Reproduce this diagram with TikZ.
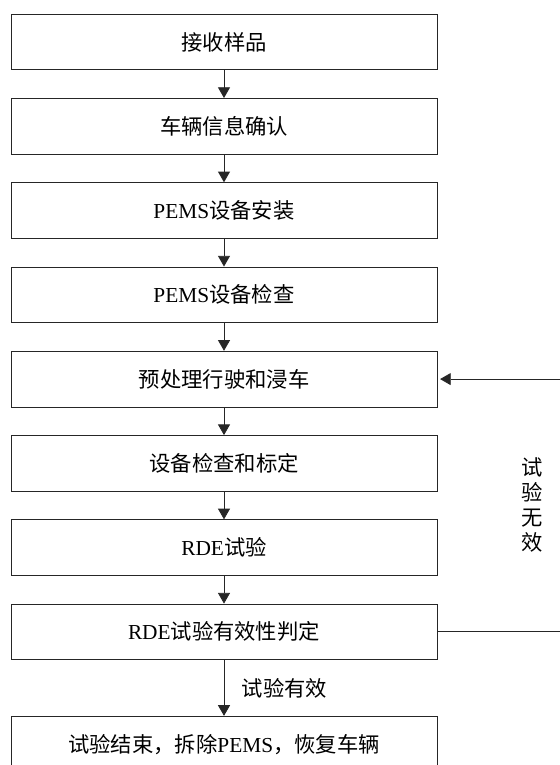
\documentclass[tikz,border=0pt]{standalone}
\usepackage{fontspec}
\setmainfont{Liberation Serif}
\newfontfamily\cjk{Noto Sans CJK SC}
\newcommand\zh[1]{{\cjk #1}}
\usetikzlibrary{positioning,arrows.meta}

\begin{document}
\begin{tikzpicture}[x=0.75pt,y=-0.75pt,node distance=20.8pt,
  stepbox/.style={rectangle,draw=black!85,line width=0.6pt,minimum width=319.5pt,minimum height=41.8pt,inner sep=0pt,font=\fontsize{16}{19}\selectfont},
  link/.style={draw=black!85,line width=0.6pt,-{Triangle[length=8pt,width=9pt]}},
  note/.style={font=\cjk\fontsize{16}{18.75}\selectfont,align=center,inner sep=2pt}]
\useasboundingbox (0,0) rectangle (560,765);
% main steps
\node [stepbox] (recv) at (224,42) {\zh{接收样品}};
\node [stepbox,below=of recv] (info) {\zh{车辆信息确认}};
\node [stepbox,below=of info] (mount) {PEMS\zh{设备安装}};
\node [stepbox,below=of mount] (check) {PEMS\zh{设备检查}};
\node [stepbox,below=of check] (precond) {\zh{预处理行驶和浸车}};
\node [stepbox,below=of precond] (calib) {\zh{设备检查和标定}};
\node [stepbox,below=of calib] (rde) {RDE\zh{试验}};
\node [stepbox,below=of rde] (judge) {RDE\zh{试验有效性判定}};
\node [stepbox,below=41.8pt of judge] (finish) {\zh{试验结束，拆除}PEMS\zh{，恢复车辆}};
\coordinate (rside) at (562,0);
% arrows
\draw [link] (recv) -- (info);
\draw [link] (info) -- (mount);
\draw [link] (mount) -- (check);
\draw [link] (check) -- (precond);
\draw [link] (precond) -- (calib);
\draw [link] (calib) -- (rde);
\draw [link] (rde) -- (judge);
\draw [link] (judge) -- node [note,right=11pt] (ok) {试验有效} (finish);
\draw [link] (judge.east) -- (judge.east -| rside) -- node [note,left=12pt] (bad) {试\\验\\无\\效} (precond.east -| rside) -- ([xshift=2pt]precond.east);
\end{tikzpicture}
\end{document}
